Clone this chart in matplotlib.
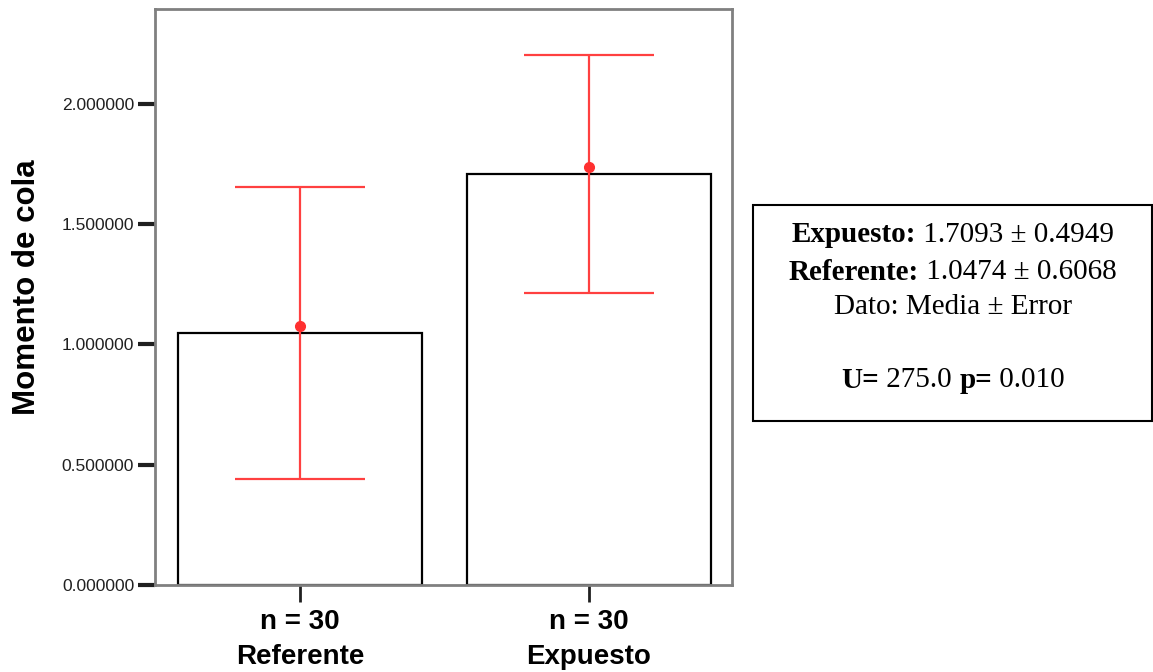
import matplotlib
matplotlib.use("Agg")
import matplotlib.pyplot as plt
from matplotlib.patches import Rectangle

categories = ["Referente", "Expuesto"]
n_labels = ["n = 30", "n = 30"]
means = [1.0474, 1.7093]
errors = [0.6068, 0.4949]
points = [1.078, 1.737]
yticks = [0.0, 0.5, 1.0, 1.5, 2.0]
ytick_labels = ["0.000000", "0.500000", "1.000000", "1.500000", "2.000000"]

fig = plt.figure(figsize=(11.53, 6.72), dpi=100)
ax = fig.add_axes([155/1153, 87/672, 577/1153, 576/672])

x = list(range(len(categories)))
ax.bar(x, means, width=0.846, color="white", edgecolor="black", linewidth=1.6, zorder=2)
ax.errorbar(x, means, yerr=errors, fmt="none", ecolor="#ff4040", elinewidth=1.6,
            capsize=47, capthick=1.6, zorder=3)
ax.plot(x, points, "o", color="#ff3030", markersize=7, zorder=4)

ax.set_xlim(-0.503, 1.497)
ax.set_ylim(0, 2.395)
ax.set_yticks(yticks)
ax.set_yticklabels(ytick_labels, fontsize=12.5, family="Liberation Sans", color="#202020")
ax.set_xticks(x)
ax.set_xticklabels([f"{n}\n{c}" for n, c in zip(n_labels, categories)],
                   fontsize=20, fontweight="bold", family="Liberation Sans",
                   linespacing=1.45)
ax.tick_params(axis="y", length=12, width=3, color="#202020", pad=3)
ax.tick_params(axis="x", length=12, width=2, color="#202020", pad=5)
for s in ax.spines.values():
    s.set_color("#808080")
    s.set_linewidth(2)
ax.set_ylabel("Momento de cola", fontsize=22.5, fontweight="bold", family="Liberation Sans")
ax.yaxis.set_label_coords(-0.196, 0.517)

# info box
fig.patches.append(Rectangle((753/1153, 1 - 421/672), (1152 - 753)/1153, (421 - 205)/672,
                             transform=fig.transFigure, facecolor="white",
                             edgecolor="black", linewidth=1.5))
cx = 953.0
box_lines = [
    (235, [("Expuesto:", "bold"), (" 1.7093 ± 0.4949", "normal")]),
    (272, [("Referente:", "bold"), (" 1.0474 ± 0.6068", "normal")]),
    (307, [("Dato: Media ± Error", "normal")]),
    (380, [("U=", "bold"), (" 275.0 ", "normal"), ("p=", "bold"), (" 0.010", "normal")]),
]
renderer = fig.canvas.get_renderer()
for y, segs in box_lines:
    texts = [fig.text(0, 1 - y/672, s, ha="left", va="center", fontsize=21,
                      family="Liberation Serif", fontweight=w) for s, w in segs]
    widths = [t.get_window_extent(renderer).width for t in texts]
    xpos = cx - sum(widths) / 2
    for t, w in zip(texts, widths):
        t.set_x(xpos / 1153)
        xpos += w

fig.savefig("out.png", dpi=100)
